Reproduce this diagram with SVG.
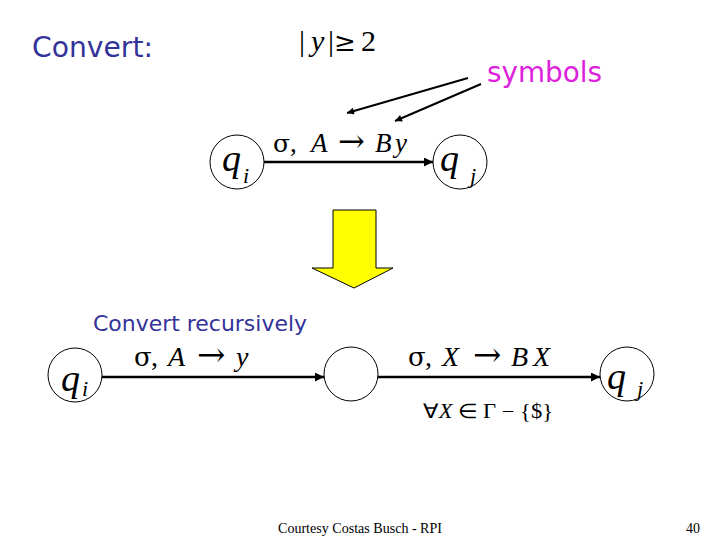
<svg xmlns="http://www.w3.org/2000/svg" width="720" height="540" viewBox="0 0 720 540">
<style>
.bg{fill:#ffffff}
.node{fill:none;stroke:#000;stroke-width:1}
.edge{stroke:#000;stroke-width:2.5;fill:none}
.ptr{stroke:#000;stroke-width:2;fill:none}
.hand{font-family:"DejaVu Sans",sans-serif;fill:#333399}
.mag{font-family:"DejaVu Sans",sans-serif;fill:#dd22dd}
.math{font-family:"Liberation Serif","Times New Roman",serif;fill:#000}
.sym{font-family:"DejaVu Serif",serif;font-style:normal}
.it{font-style:italic}
.foot{font-family:"Liberation Serif","Times New Roman",serif;font-size:14px;fill:#000}
</style>
<defs>
<marker id="ah" viewBox="0 0 10 10" refX="10" refY="5" markerWidth="12" markerHeight="9" markerUnits="userSpaceOnUse" orient="auto"><path d="M0,0 L10,5 L0,10 z" fill="#000"/></marker>
<marker id="ahs" viewBox="0 0 10 10" refX="10" refY="5" markerWidth="10" markerHeight="7" markerUnits="userSpaceOnUse" orient="auto"><path d="M0,0 L10,5 L0,10 z" fill="#000"/></marker>
</defs>
<rect class="bg" x="0" y="0" width="720" height="540"/>

<text class="hand" x="32" y="57" font-size="28" textLength="121" lengthAdjust="spacingAndGlyphs">Convert:</text>
<text class="math" font-size="30" y="51"><tspan x="299">|</tspan><tspan x="311" class="it">y</tspan><tspan x="328">|</tspan><tspan x="334" class="sym" font-size="26">≥</tspan><tspan x="361">2</tspan></text>
<text class="mag" x="487" y="82" font-size="28" textLength="115" lengthAdjust="spacingAndGlyphs">symbols</text>

<g id="top-qi">
<circle class="node" cx="237" cy="162" r="27"/>
<text class="math it" x="222" y="171" font-size="38">q</text>
<text class="math it" x="243" y="183" font-size="22">i</text>
</g>
<g id="top-qj">
<circle class="node" cx="460" cy="162" r="27"/>
<text class="math it" x="440" y="171" font-size="38">q</text>
<text class="math it" x="470" y="183" font-size="22">j</text>
</g>

<g id="bot-qi">
<circle class="node" cx="75" cy="375" r="27"/>
<text class="math it" x="61" y="391" font-size="38">q</text>
<text class="math it" x="82" y="396" font-size="22">i</text>
</g>
<g id="bot-mid">
<circle class="node" cx="351" cy="374" r="27"/>
</g>
<g id="bot-qj">
<circle class="node" cx="627" cy="374" r="27"/>
<text class="math it" x="607" y="389" font-size="38">q</text>
<text class="math it" x="637" y="396" font-size="22">j</text>
</g>

<g id="connectors">
<line class="edge" x1="264" y1="162" x2="433" y2="162" marker-end="url(#ah)"/>
<line class="ptr" x1="468" y1="78" x2="347" y2="113" marker-end="url(#ahs)"/>
<line class="ptr" x1="481" y1="84" x2="395" y2="121" marker-end="url(#ahs)"/>
<line class="edge" x1="102" y1="377" x2="324" y2="377" marker-end="url(#ah)"/>
<line class="edge" x1="378" y1="377" x2="600" y2="377" marker-end="url(#ah)"/>
</g>

<text class="math" y="152" font-size="27"><tspan x="273" class="sym" font-size="25">σ</tspan><tspan x="290">,</tspan><tspan x="311" class="it">A</tspan><tspan x="338" class="sym" font-size="32">→</tspan><tspan x="375" class="it">B</tspan><tspan x="395" class="it">y</tspan></text>
<text class="math" y="366" font-size="28"><tspan x="134" class="sym" font-size="26">σ</tspan><tspan x="151">,</tspan><tspan x="168" class="it">A</tspan><tspan x="197" class="sym" font-size="34">→</tspan><tspan x="236" class="it">y</tspan></text>
<text class="math" y="366" font-size="28"><tspan x="408" class="sym" font-size="26">σ</tspan><tspan x="425">,</tspan><tspan x="442" class="it">X</tspan><tspan x="473" class="sym" font-size="34">→</tspan><tspan x="511" class="it">B</tspan><tspan x="533" class="it">X</tspan></text>
<text class="math" x="423" y="418" font-size="20" textLength="130" lengthAdjust="spacingAndGlyphs">∀<tspan class="it">X</tspan> ∈ Γ − {$}</text>

<polygon points="333,210 376,210 376,268 393,268 354,288 312,268 333,268" fill="#ffff00" stroke="#000" stroke-width="1"/>

<text class="hand" x="93" y="331" font-size="21" textLength="214" lengthAdjust="spacingAndGlyphs">Convert recursively</text>

<text class="foot" x="278" y="533" textLength="164" lengthAdjust="spacingAndGlyphs">Courtesy Costas Busch - RPI</text>
<text class="foot" x="686" y="533">40</text>
</svg>
